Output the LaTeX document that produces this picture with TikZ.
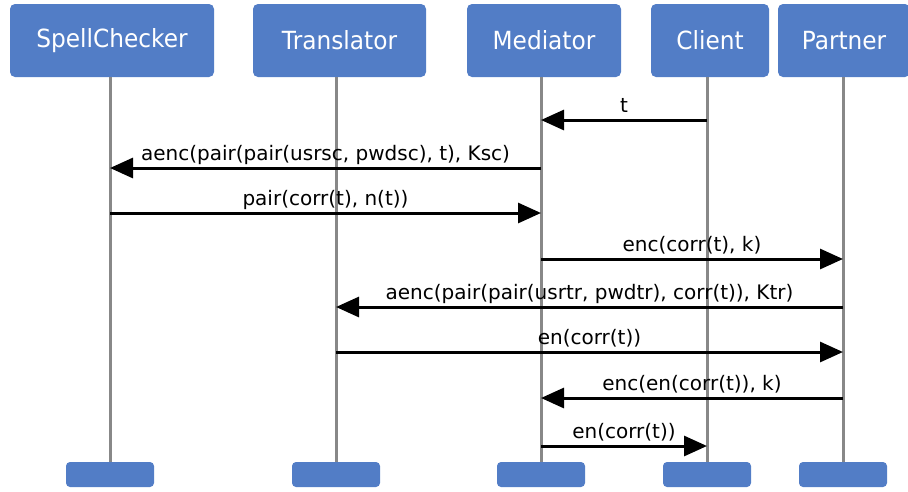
\documentclass[tikz,border=0pt]{standalone}
\usepackage{fontspec}
\setmainfont{DejaVu Sans}
\newfontfamily\headfont[FakeStretch=0.93]{DejaVu Sans}
\usetikzlibrary{arrows.meta}
\definecolor{actorblue}{RGB}{82,125,198}
\definecolor{lifegray}{RGB}{136,136,136}
\tikzset{
  headbox/.style={draw=none, fill=actorblue, rounded corners=5pt, text=white,
    font=\headfont\fontsize{25}{29}\selectfont, inner sep=0pt, minimum height=73pt},
  footbox/.style={draw=none, fill=actorblue, rounded corners=4pt,
    minimum width=88pt, minimum height=25pt, inner sep=0pt},
  lifeline/.style={draw=lifegray, line width=3pt},
  msg/.style={draw=black, line width=3pt, -{Triangle[length=23pt,width=20pt]}},
  msglabel/.style={font=\fontsize{20}{24}\selectfont, anchor=base, inner sep=0pt}
}
\begin{document}
\begin{tikzpicture}[x=1pt, y=-1pt]
\useasboundingbox (0,0) rectangle (908,491);

% participants (top)
\node[headbox, minimum width=204pt] (scT)  at (112,40.5)   {SpellChecker};
\node[headbox, minimum width=173pt] (trT)  at (339.5,40.5) {Translator};
\node[headbox, minimum width=154pt] (medT) at (544,40.5)   {Mediator};
\node[headbox, minimum width=118pt] (cliT) at (710,40.5)   {Client};
\node[headbox, minimum width=132pt] (parT) at (844,40.5)   {Partner};

% participants (bottom)
\node[footbox] (scB)  at (110,474.5) {};
\node[footbox] (trB)  at (336,474.5) {};
\node[footbox] (medB) at (541,474.5) {};
\node[footbox] (cliB) at (707,474.5) {};
\node[footbox] (parB) at (843,474.5) {};

% lifelines
\foreach \p in {sc,tr,med,cli,par}
  \draw[lifeline] (\p B.north) -- (\p B.north |- \p T.south);

% message rows
\coordinate (m1) at (0,120);
\coordinate (m2) at (0,168);
\coordinate (m3) at (0,213);
\coordinate (m4) at (0,259);
\coordinate (m5) at (0,307);
\coordinate (m6) at (0,352);
\coordinate (m7) at (0,398);
\coordinate (m8) at (0,446);

% messages
\draw[msg] (cliB.north |- m1) -- (medB.north |- m1)
  node[msglabel, midway, yshift=8pt] (l1) {t};
\draw[msg] (medB.north |- m2) -- (scB.north |- m2)
  node[msglabel, midway, yshift=8pt] (l2) {aenc(pair(pair(usrsc, pwdsc), t), Ksc)};
\draw[msg] (scB.north |- m3) -- (medB.north |- m3)
  node[msglabel, midway, yshift=8pt] (l3) {pair(corr(t), n(t))};
\draw[msg] (medB.north |- m4) -- (parB.north |- m4)
  node[msglabel, midway, yshift=8pt] (l4) {enc(corr(t), k)};
\draw[msg] (parB.north |- m5) -- (trB.north |- m5)
  node[msglabel, midway, yshift=8pt] (l5) {aenc(pair(pair(usrtr, pwdtr), corr(t)), Ktr)};
\draw[msg] (trB.north |- m6) -- (parB.north |- m6)
  node[msglabel, midway, yshift=8pt] (l6) {en(corr(t))};
\draw[msg] (parB.north |- m7) -- (medB.north |- m7)
  node[msglabel, midway, yshift=8pt] (l7) {enc(en(corr(t)), k)};
\draw[msg] (medB.north |- m8) -- (cliB.north |- m8)
  node[msglabel, midway, yshift=8pt] (l8) {en(corr(t))};
\end{tikzpicture}
\end{document}
